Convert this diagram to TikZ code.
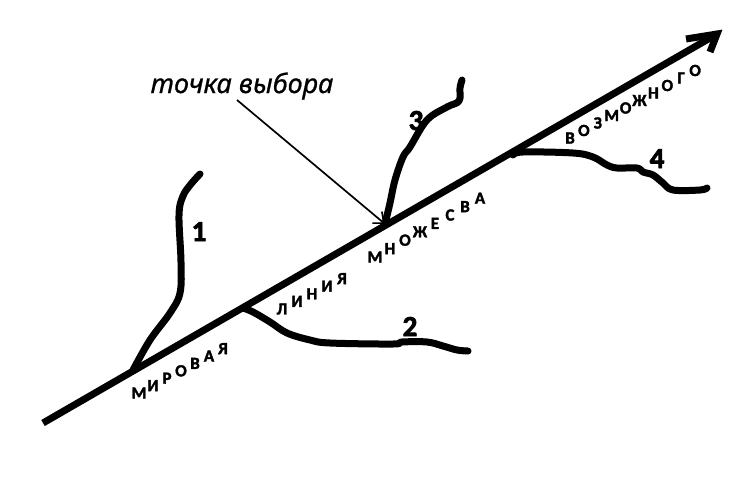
\documentclass[tikz,border=0pt]{standalone}
\usepackage{fontspec}
\usepackage{graphicx}
\newfontfamily\labfont{Carlito Bold}[FakeBold=2]
\newfontfamily\numfont{Carlito Bold}[FakeBold=2.5]
\newfontfamily\itfont{Noto Sans Italic}[FakeBold=0.8]
\usetikzlibrary{arrows.meta}
\begin{document}
\begin{tikzpicture}[x=1pt,y=-1pt,
  mainline/.style={line width=7pt},
  branch/.style={line width=7pt,line cap=round,line join=round},
  letter/.style={font=\labfont\fontsize{17}{17}\selectfont,inner sep=0pt},
  num/.style={font=\numfont\fontsize{29}{29}\selectfont,inner sep=0pt,anchor=base},
  pointer/.style={line width=1.7pt,-{Straight Barb[length=9pt,width=15pt,line width=1.7pt]}},
]
\useasboundingbox[fill=white] (0,0) rectangle (730,500);
% main world line
\coordinate (start) at (43,423);
\coordinate (tip) at (717,34);
\coordinate (bl) at (686,39);
\coordinate (br) at (710,52);
\draw[mainline] (start) -- (tip);
\draw[mainline,line join=miter] (bl) -- (tip) -- (br);
% branch bases on the line
\coordinate (b1) at (133,370);
\coordinate (b2) at (243,308);
\coordinate (b3) at (385,224);
\coordinate (b4) at (513,155);
% branch 1
\draw[branch] plot[smooth,tension=0.6] coordinates {(b1) (150,340) (170,313) (180,293) (181,262) (179,215) (183,196) (191,184) (200,174)};
% branch 2
\draw[branch] plot[smooth,tension=0.6] coordinates {(b2) (253,312) (270,322) (287,333) (310,340) (330,343) (393,344) (402,342) (427,342) (443,346) (457,350) (468,351)};
% branch 3
\draw[branch] plot[smooth,tension=0.6] coordinates {(b3) (390,203) (395,180) (403,157) (410,147) (427,120) (447,107) (459,101) (460,88) (462,80)};
% branch 4
\draw[branch] plot[smooth,tension=0.6] coordinates {(b4) (523,152) (573,153) (593,157) (607,165) (617,168) (637,168) (643,172) (653,175) (663,183) (673,190) (700,190) (707,188)};
% numbers
\node[num] (n1) at (199,241) {1};
\node[num] (n2) at (410,336) {2};
\node[num] (n3) at (416,130) {3};
\node[num] (n4) at (657,168) {4};
% choice point label
\node[inner sep=0pt] (choice) at (242,86) {\itfont\fontsize{27}{27}\selectfont точка выбора};
\coordinate (astart) at (237,100);
\draw[pointer] (astart) -- (b3);
% letters along the line
\foreach \ch [count=\i from 0] in {М,И,Р,О,В,А,Я}
  \node[letter] (wa\i) at ({139+14*\i},{393-7.4*\i}) {\ch};
\foreach \ch [count=\i from 0] in {Л,И,Н,И,Я}
  \node[letter] (wb\i) at ({282+15*\i},{309-7.6*\i}) {\ch};
\foreach \ch [count=\i from 0] in {М,Н,О,Ж,Е,С,В,А}
  \node[letter] (wc\i) at ({375+15*\i},{257-8.4*\i}) {\ch};
\foreach \ch [count=\i from 0] in {В,О,З,М,О,Ж,Н,О,Г,О}
  \node[letter] (wd\i) at ({570+13.9*\i},{138-7.5*\i}) {\ch};
\end{tikzpicture}
\end{document}
